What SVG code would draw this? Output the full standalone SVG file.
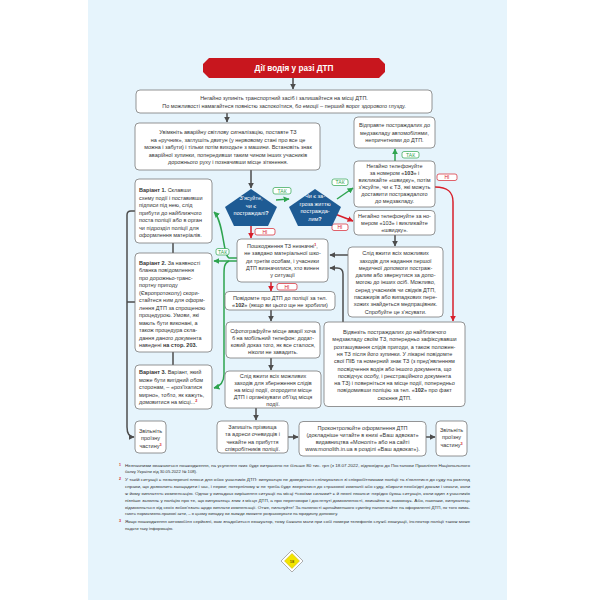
<svg xmlns="http://www.w3.org/2000/svg" width="600" height="600" viewBox="0 0 600 600">
<style>
.bx{fill:#fff;stroke:#7a7a7a;stroke-width:0.8}
.t{font-family:"Liberation Sans",Arial,sans-serif;font-size:5.5px;fill:#333;text-anchor:middle}
.tl{text-anchor:start}
.b{font-weight:bold}
.sup{fill:#d71f2b;font-size:3.8px;font-weight:bold}
.pt{font-family:"Liberation Sans",Arial,sans-serif;font-size:5.5px;fill:#fff;text-anchor:middle}
.pent{fill:#1e5b94}
.con{fill:none;stroke:#4d4d4d;stroke-width:1.5}
.gr{fill:none;stroke:#2ea44f;stroke-width:1.5}
.rd{fill:none;stroke:#d71f2b;stroke-width:1.5}
.lg{fill:#fff;stroke:#2ea44f;stroke-width:0.7}
.lr{fill:#fff;stroke:#d71f2b;stroke-width:0.7}
.lgt{font-family:"Liberation Sans",Arial,sans-serif;font-size:5px;fill:#2ea44f;text-anchor:middle}
.lrt{font-family:"Liberation Sans",Arial,sans-serif;font-size:5px;fill:#d71f2b;text-anchor:middle}
.fn{font-family:"Liberation Sans",Arial,sans-serif;font-size:4.2px;fill:#333}
.fs{font-family:"Liberation Sans",Arial,sans-serif;font-size:3.6px;fill:#d71f2b;font-weight:bold}
</style>
<defs>
<marker id="ak" viewBox="0 0 10 10" refX="9" refY="5" markerWidth="6" markerHeight="6" markerUnits="userSpaceOnUse" orient="auto"><path d="M0,0 L10,5 L0,10 z" fill="#4d4d4d"/></marker>
<marker id="agr" viewBox="0 0 10 10" refX="9" refY="5" markerWidth="6" markerHeight="6" markerUnits="userSpaceOnUse" orient="auto"><path d="M0,0 L10,5 L0,10 z" fill="#2ea44f"/></marker>
<marker id="ard" viewBox="0 0 10 10" refX="9" refY="5" markerWidth="6" markerHeight="6" markerUnits="userSpaceOnUse" orient="auto"><path d="M0,0 L10,5 L0,10 z" fill="#d71f2b"/></marker>
</defs>
<rect x="0" y="0" width="600" height="600" fill="#fff"/>
<rect x="88" y="0" width="419" height="600" fill="#e6f4fc"/>

<g id="connectors">
<path class="con" d="M293 78 L293 89" marker-end="url(#ak)"/>
<path class="con" d="M227 113 L227 122" marker-end="url(#ak)"/>
<path class="con" d="M251 170 L251 188" marker-end="url(#ak)"/>
<path class="gr" d="M276 200 L289 199" marker-end="url(#agr)"/>
<path class="gr" d="M337 199 L353 188" marker-end="url(#agr)"/>
<path class="gr" d="M395 161 L395 149" marker-end="url(#agr)"/>
<path class="rd" d="M435 187 C448 187 453 192 453 202 L453 321" marker-end="url(#ard)"/>
<path class="rd" d="M335 214 L353 221" marker-end="url(#ard)"/>
<path class="con" d="M395 235 L395 246" marker-end="url(#ak)"/>
<path class="con" d="M348 255 L330 255" marker-end="url(#ak)"/>
<path class="con" d="M343 322 L343 274 Q343 268 337 268 L330 268" marker-end="url(#ak)"/>
<path class="rd" d="M251 225 L251 238" marker-end="url(#ard)"/>
<path class="gr" d="M237 258 L229 258 C223 256 224 222 214 212" marker-end="url(#agr)"/>
<path class="gr" d="M237 261 L214 261" marker-end="url(#agr)"/>
<path class="gr" d="M229 261 C224 263 224 268 224 275 L224 374 C224 382 221 386 214 388" marker-end="url(#agr)"/>
<path class="rd" d="M271 282 L271 291" marker-end="url(#ard)"/>
<path class="con" d="M271 310 L271 321" marker-end="url(#ak)"/>
<path class="con" d="M271 358 L271 370" marker-end="url(#ak)"/>
<path class="con" d="M256 408 L256 420" marker-end="url(#ak)"/>
<path class="con" d="M288 437 L298 437" marker-end="url(#ak)"/>
<path class="con" d="M426 437 L435 437" marker-end="url(#ak)"/>
<path class="con" d="M173 243 L173 253"/>
<path class="con" d="M173 352 L173 365"/>
<path class="con" d="M135 211 L131 211 Q127 211 127 215 L127 427 Q127 437 134 437" marker-end="url(#ak)"/>
<path class="con" d="M135 302 L127 302"/>
<!-- labels -->
<rect class="lg" x="273" y="187.5" width="18" height="6.5" rx="2"/><text class="lgt" x="282" y="192.6">ТАК</text>
<rect class="lg" x="332" y="179" width="16" height="6.5" rx="2"/><text class="lgt" x="340" y="184.1">ТАК</text>
<rect class="lg" x="402" y="151.5" width="17" height="6.5" rx="2"/><text class="lgt" x="410.5" y="156.6">ТАК</text>
<rect class="lr" x="437" y="174" width="20" height="6.5" rx="2"/><text class="lrt" x="447" y="179.1">НІ</text>
<rect class="lr" x="332" y="224" width="16" height="6.5" rx="2"/><text class="lrt" x="340" y="229.1">НІ</text>
<rect class="lr" x="255" y="228.5" width="20" height="6.5" rx="2"/><text class="lrt" x="265" y="233.6">НІ</text>
<rect class="lg" x="216" y="248.5" width="13" height="6.5" rx="2"/><text class="lgt" x="222.5" y="253.6">ТАК</text>
<rect class="lr" x="277" y="283.5" width="20" height="6.5" rx="2"/><text class="lrt" x="287" y="288.6">НІ</text>
</g>

<g id="title">
<path d="M209 58 L379 58 L385 64 L385 72 L379 78 L209 78 L203 72 L203 64 Z" fill="#c8161e"/>
<text x="294" y="71" font-family="Liberation Sans,Arial,sans-serif" font-size="8.2" font-weight="bold" fill="#fff" text-anchor="middle">Дії водія у разі ДТП</text>
</g>

<g id="n-stop">
<rect class="bx" x="136" y="90" width="296" height="23" rx="4"/>
<text class="t" x="284" y="100">Негайно зупиніть транспортний засіб і залишайтеся на місці ДТП.</text>
<text class="t" x="284" y="107.5">По можливості намагайтеся повністю заспокоїтися, бо емоції – перший ворог здорового глузду.</text>
</g>

<g id="n-signal">
<rect class="bx" x="135" y="123" width="185" height="47" rx="4"/>
<text class="t" x="228" y="134">Увімкніть аварійну світлову сигналізацію, поставте ТЗ</text>
<text class="t" x="228" y="141.5">на «ручник», заглушіть двигун (у нервовому стані про все це</text>
<text class="t" x="228" y="149">можна і забути) і тільки потім виходьте з машини. Встановіть знак</text>
<text class="t" x="228" y="156.5">аварійної зупинки, попередивши таким чином інших учасників</text>
<text class="t" x="228" y="164">дорожнього руху і позначивши місце зіткнення.</text>
</g>

<g id="p-injured">
<polygon class="pent" points="251,189 277,207 268,226 234,226 225,207"/>
<text class="pt" x="251" y="200">З'ясуйте,</text>
<text class="pt" x="251" y="207.5">чи є</text>
<text class="pt" x="251" y="215">постраждалі<tspan class="b">?</tspan></text>
</g>

<g id="p-threat">
<polygon class="pent" points="315,189 341,207 332,226 298,226 289,207"/>
<text class="pt" x="315" y="198">Чи є за-</text>
<text class="pt" x="315" y="205.5">гроза життю</text>
<text class="pt" x="315" y="213">постражда-</text>
<text class="pt" x="315" y="220.5">лим<tspan class="b">?</tspan></text>
</g>

<g id="n-send">
<rect class="bx" x="354" y="117" width="81" height="31" rx="4"/>
<text class="t" x="394.5" y="127">Відправте постраждалих до</text>
<text class="t" x="394.5" y="134.5">медзакладу автомобілями,</text>
<text class="t" x="394.5" y="142">непричетними до ДТП.</text>
</g>

<g id="n-call1">
<rect class="bx" x="354" y="161" width="81" height="46" rx="4"/>
<text class="t" x="394.5" y="168">Негайно телефонуйте</text>
<text class="t" x="394.5" y="175">за номером «<tspan class="b">103</tspan>» і</text>
<text class="t" x="394.5" y="182">викликайте «швидку», потім</text>
<text class="t" x="394.5" y="189">з'ясуйте, чи є ТЗ, які можуть</text>
<text class="t" x="394.5" y="196">доставити постраждалого</text>
<text class="t" x="394.5" y="203">до медзакладу.</text>
</g>

<g id="n-call2">
<rect class="bx" x="354" y="210.5" width="81" height="24.5" rx="4"/>
<text class="t" x="394.5" y="217.5">Негайно телефонуйте за но-</text>
<text class="t" x="394.5" y="224.8">мером «103» і викликайте</text>
<text class="t" x="394.5" y="232">«швидку».</text>
</g>

<g id="n-firstaid">
<rect class="bx" x="348" y="247" width="95" height="70" rx="4"/>
<text class="t" x="395.5" y="255.2">Слід вжити всіх можливих</text>
<text class="t" x="395.5" y="262.5">заходів для надання першої</text>
<text class="t" x="395.5" y="269.8">медичної допомоги постраж-</text>
<text class="t" x="395.5" y="277.1">далим або звернутися за допо-</text>
<text class="t" x="395.5" y="284.4">могою до інших осіб. Можливо,</text>
<text class="t" x="395.5" y="291.7">серед учасників чи свідків ДТП,</text>
<text class="t" x="395.5" y="299">пасажирів або випадкових пере-</text>
<text class="t" x="395.5" y="306.3">хожих знайдеться медпрацівник.</text>
<text class="t" x="395.5" y="313.6">Спробуйте це з'ясувати.</text>
</g>

<g id="n-minor">
<rect class="bx" x="237" y="239" width="91" height="43" rx="4"/>
<text class="t" x="282.5" y="248">Пошкодження ТЗ незначні<tspan class="sup" dy="-2">1</tspan><tspan dy="2">,</tspan></text>
<text class="t" x="282.5" y="255.3">не завдано матеріальної шко-</text>
<text class="t" x="282.5" y="262.6">ди третім особам, і учасники</text>
<text class="t" x="282.5" y="269.9">ДТП визначилися, хто винен</text>
<text class="t" x="282.5" y="277.2">у ситуації</text>
</g>

<g id="n-police">
<rect class="bx" x="225" y="291.5" width="110" height="18.5" rx="4"/>
<text class="t" x="280" y="299.5">Повідомте про ДТП до поліції за тел.</text>
<text class="t" x="280" y="306.8">«<tspan class="b">102</tspan>» (якщо ви цього ще не зробили)</text>
</g>

<g id="n-photo">
<rect class="bx" x="226" y="322" width="94" height="36" rx="4"/>
<text class="t" x="273" y="332.5">Сфотографуйте місце аварії хоча</text>
<text class="t" x="273" y="339.5">б на мобільний телефон: додат-</text>
<text class="t" x="273" y="346.5">ковий доказ того, як все сталося,</text>
<text class="t" x="273" y="353.5">ніколи не завадить.</text>
</g>

<g id="n-traces">
<rect class="bx" x="225" y="371" width="96" height="37" rx="4"/>
<text class="t" x="273" y="377.5">Слід вжити всіх можливих</text>
<text class="t" x="273" y="384.5">заходів для збереження слідів</text>
<text class="t" x="273" y="391.5">на місці події, огородити місце</text>
<text class="t" x="273" y="398.5">ДТП і організувати об'їзд місця</text>
<text class="t" x="273" y="405.5">події.</text>
</g>

<g id="n-witness">
<rect class="bx" x="217" y="421" width="71" height="32" rx="4"/>
<text class="t" x="252.5" y="429">Запишіть прізвища</text>
<text class="t" x="252.5" y="436.3">та адреси очевидців і</text>
<text class="t" x="252.5" y="443.6">чекайте на прибуття</text>
<text class="t" x="252.5" y="450.9">співробітників поліції.</text>
</g>

<g id="n-control">
<rect class="bx" x="299" y="421.5" width="127" height="34.5" rx="4"/>
<text class="t" x="362.5" y="429.5">Проконтролюйте оформлення ДТП</text>
<text class="t" x="362.5" y="436.8">(докладніше читайте в книзі «Ваш адвокат»</text>
<text class="t" x="362.5" y="444.1">видавництва «Моноліт» або на сайті</text>
<text class="t" x="362.5" y="451.4">www.monolith.in.ua в розділі «Ваш адвокат»).</text>
</g>

<g id="n-clear-right">
<rect class="bx" x="436" y="421" width="31" height="35" rx="4"/>
<text class="t" x="451.5" y="432">Звільніть</text>
<text class="t" x="451.5" y="439.3">проїзну</text>
<text class="t" x="451.5" y="446.6">частину<tspan class="sup" dy="-2">3</tspan></text>
</g>

<g id="n-take">
<rect class="bx" x="324" y="322" width="141" height="84.5" rx="4"/>
<text class="t" x="394.5" y="334">Відвезіть постраждалих до найближчого</text>
<text class="t" x="394.5" y="341.3">медзакладу своїм ТЗ, попередньо зафіксувавши</text>
<text class="t" x="394.5" y="348.6">розташування слідів пригоди, а також положен-</text>
<text class="t" x="394.5" y="355.9">ня ТЗ після його зупинки. У лікарні повідомте</text>
<text class="t" x="394.5" y="363.2">свої ПІБ та номерний знак ТЗ (з пред'явленням</text>
<text class="t" x="394.5" y="370.5">посвідчення водія або іншого документа, що</text>
<text class="t" x="394.5" y="377.8">посвідчує особу, і реєстраційного документа</text>
<text class="t" x="394.5" y="385.1">на ТЗ) і поверніться на місце події, попередньо</text>
<text class="t" x="394.5" y="392.4">повідомивши поліцію за тел. «<tspan class="b">102</tspan>» про факт</text>
<text class="t" x="394.5" y="399.7">скоєння ДТП.</text>
</g>

<g id="n-var1">
<rect class="bx" x="135" y="179" width="77" height="64" rx="4"/>
<text class="t tl" x="139" y="192"><tspan class="b">Варіант 1.</tspan> Склавши</text>
<text class="t tl" x="139" y="199.5">схему події і поставивши</text>
<text class="t tl" x="139" y="207">підписи під нею, слід</text>
<text class="t tl" x="139" y="214.5">прибути до найближчого</text>
<text class="t tl" x="139" y="222">поста поліції або в орган</text>
<text class="t tl" x="139" y="229.5">чи підрозділ поліції для</text>
<text class="t tl" x="139" y="237">оформлення матеріалів.</text>
</g>

<g id="n-var2">
<rect class="bx" x="135" y="253" width="77" height="99" rx="4"/>
<text class="t tl" x="139" y="264.5"><tspan class="b">Варіант 2.</tspan> За наявності</text>
<text class="t tl" x="139" y="272">бланка повідомлення</text>
<text class="t tl" x="139" y="279.5">про дорожньо-транс-</text>
<text class="t tl" x="139" y="287">портну пригоду</text>
<text class="t tl" x="139" y="294.5">(Європротоколу) скори-</text>
<text class="t tl" x="139" y="302">стайтеся ним для оформ-</text>
<text class="t tl" x="139" y="309.5">лення ДТП за спрощеною</text>
<text class="t tl" x="139" y="317">процедурою. Умови, які</text>
<text class="t tl" x="139" y="324.5">мають бути виконані, а</text>
<text class="t tl" x="139" y="332">також процедура скла-</text>
<text class="t tl" x="139" y="339.5">дання даного документа</text>
<text class="t tl" x="139" y="347">наведені <tspan class="b">на стор. 203.</tspan></text>
</g>

<g id="n-var3">
<rect class="bx" x="135" y="365" width="77" height="44" rx="4"/>
<text class="t tl" x="139" y="374"><tspan class="b">Варіант 3.</tspan> Варіант, який</text>
<text class="t tl" x="139" y="381.5">може бути вигідний обом</text>
<text class="t tl" x="139" y="389">сторонам, – «роз'їхатися</text>
<text class="t tl" x="139" y="396.5">мирно», тобто, як кажуть,</text>
<text class="t tl" x="139" y="404">домовитися на місці...<tspan class="sup" dy="-2">2</tspan></text>
</g>

<g id="n-clear-left">
<rect class="bx" x="135" y="421" width="31" height="32" rx="4"/>
<text class="t" x="150.5" y="433">Звільніть</text>
<text class="t" x="150.5" y="440.3">проїзну</text>
<text class="t" x="150.5" y="447.6">частину<tspan class="sup" dy="-2">3</tspan></text>
</g>

<g id="footnotes">
<text class="fs" x="119" y="465.5">1</text>
<text class="fn" x="125" y="466.5" textLength="345" lengthAdjust="spacingAndGlyphs">Незначними вважаються пошкодження, на усунення яких буде витрачено не більше 80 тис. грн (з 18.07.2022, відповідно до Постанови Правління Національного</text>
<text class="fn" x="125" y="473.3">банку України від 30.05.2022 № 108).</text>
<text class="fs" x="119" y="479.9">2</text>
<text class="fn" x="125" y="480.9" textLength="345" lengthAdjust="spacingAndGlyphs">У такій ситуації є незаперечні плюси для обох учасників ДТП: винуватцю не доведеться спілкуватися зі співробітниками поліції та з'являтися до суду на розгляд</text>
<text class="fn" x="125" y="487.9" textLength="345" lengthAdjust="spacingAndGlyphs">справи, що дозволить заощадити і час, і нерви; потерпілому ж не треба буде звертатися до страхової компанії або суду, збирати необхідні докази і чекати, коли</text>
<text class="fn" x="125" y="494.8" textLength="345" lengthAdjust="spacingAndGlyphs">ж йому виплатять компенсацію. Однак у випадках вирішення ситуації на місці «своїми силами» є й певні нюанси: нерідко буває ситуація, коли один з учасників</text>
<text class="fn" x="125" y="501.6" textLength="345" lengthAdjust="spacingAndGlyphs">пізніше заявляє у поліцію про те, що винуватець зник з місця ДТП, а про переговори і досягнуті домовленості, звичайно ж, замовчує. Або, навпаки, винуватець</text>
<text class="fn" x="125" y="508.5" textLength="345" lengthAdjust="spacingAndGlyphs">відмовляється від своїх зобов'язань щодо виплати компенсації. Отже, пильнуйте! За наявності щонайменшого сумніву наполягайте на оформленні ДТП, як того вима-</text>
<text class="fn" x="125" y="515.4">гають нормативно-правові акти, – в цьому випадку ви завжди зможете розраховувати на юридичну допомогу.</text>
<text class="fs" x="119" y="521.8">3</text>
<text class="fn" x="125" y="522.8" textLength="345" lengthAdjust="spacingAndGlyphs">Якщо пошкодження автомобіля серйозні, вам знадобиться евакуатор, тому бажано мати при собі номери телефонів служб евакуації, інспектор поліції також може</text>
<text class="fn" x="125" y="529.8">надати таку інформацію.</text>
</g>

<g id="page-number">
<polygon points="292,550 303,561 292,572 281,561" fill="#fff" stroke="#9a9a9a" stroke-width="0.8"/>
<polygon points="292,553.5 299.5,561 292,568.5 284.5,561" fill="#f3e400" stroke="#c8b400" stroke-width="0.5"/>
<text x="292" y="562.5" font-family="Liberation Sans,Arial,sans-serif" font-size="4" font-weight="bold" fill="#6b5d00" text-anchor="middle">18</text>
</g>
</svg>
